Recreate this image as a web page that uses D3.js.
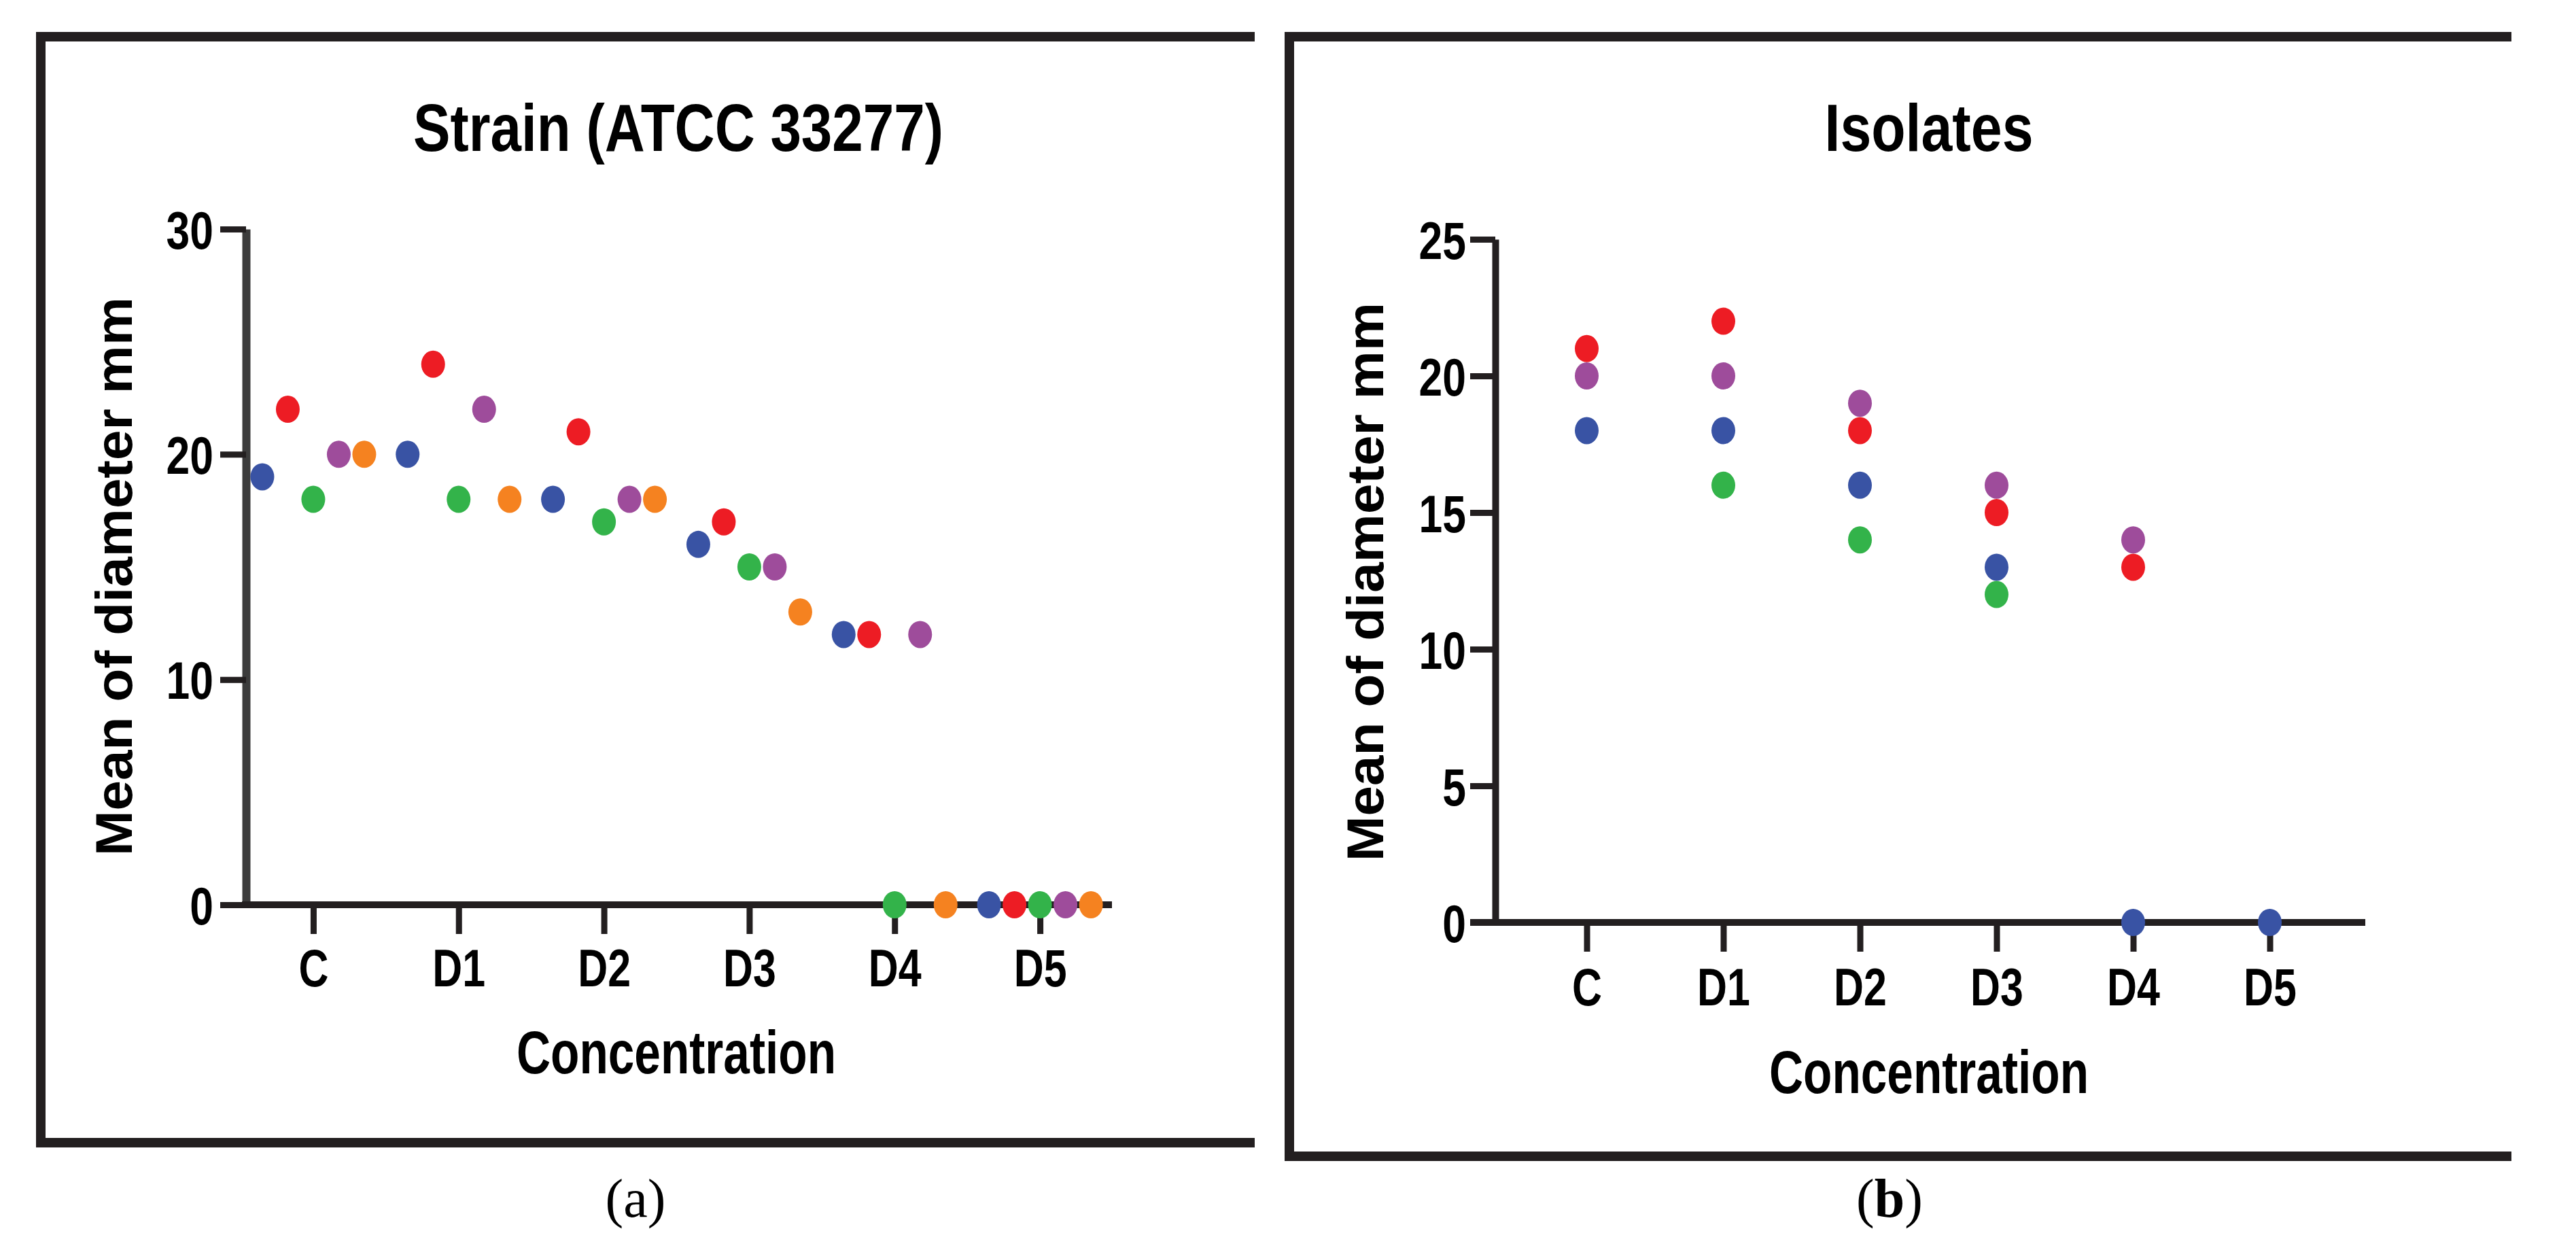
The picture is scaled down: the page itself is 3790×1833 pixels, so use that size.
<!DOCTYPE html>
<html>
<head>
<meta charset="utf-8">
<script src="https://cdn.jsdelivr.net/npm/d3@7/dist/d3.min.js"></script>
<style>
  html, body { margin: 0; padding: 0; background: #fff; }
  svg { display: block; }
</style>
</head>
<body>
<script>
// ---------------- DATA ----------------
const categories = ["C", "D1", "D2", "D3", "D4", "D5"];
const seriesKeys = ["blue", "red", "green", "purple", "orange"];
const seriesColors = ["#3953a4", "#ed1c24", "#33b34a", "#9e4c9b", "#f58220"];

// Panel (a): Strain (ATCC 33277) – five replicate values per concentration
const strainBlue   = [19, 20, 18, 16, 12, 0];
const strainRed    = [22, 24, 21, 17, 12, 0];
const strainGreen  = [18, 18, 17, 15, 0, 0];
const strainPurple = [20, 22, 18, 15, 12, 0];
const strainOrange = [20, 18, 18, 13, 0, 0];

// Panel (b): Isolates (null = no point shown)
const isoBlue   = [18, 18, 16, 13, 0, 0];
const isoRed    = [21, 22, 18, 15, 13, null];
const isoGreen  = [null, 16, 14, 12, null, null];
const isoPurple = [20, 20, 19, 16, 14, null];
const isoOrange = [null, null, null, null, null, null];

const strainTicks = [0, 10, 20, 30];
const isoTicks = [0, 5, 10, 15, 20, 25];

const titleA = "Strain (ATCC 33277)";
const titleB = "Isolates";
const yLabel = "Mean of diameter mm";
const xLabel = "Concentration";

// ---------------- DRAW ----------------
const W = 3790, H = 1833;
const ink = "#231f20";
const sans = "'Liberation Sans', Arial, Helvetica, sans-serif";
const serif = "'Liberation Serif', 'Times New Roman', serif";

const svg = d3.select("body").append("svg")
  .attr("width", W).attr("height", H)
  .attr("viewBox", `0 0 ${W} ${H}`);
svg.append("rect").attr("width", W).attr("height", H).attr("fill", "#fff");

function squeeze(sel, factor) {
  sel.each(function () {
    const w = this.getComputedTextLength();
    this.setAttribute("textLength", w * factor);
    this.setAttribute("lengthAdjust", "spacingAndGlyphs");
  });
}
function fitTo(sel, len) {
  sel.attr("textLength", len).attr("lengthAdjust", "spacingAndGlyphs");
}

// Frames (open on the right side)
svg.append("path")
  .attr("d", "M1846,54H60V1681H1846")
  .attr("fill", "none").attr("stroke", ink).attr("stroke-width", 14);
svg.append("path")
  .attr("d", "M3695,54H1897V1701H3695")
  .attr("fill", "none").attr("stroke", ink).attr("stroke-width", 14);

function makeTable(arrays) {
  const rows = [];
  categories.forEach((c, ci) => {
    seriesKeys.forEach((s, si) => {
      const v = arrays[si][ci];
      if (v !== null && v !== undefined) rows.push({ cat: c, series: s, si, value: v });
    });
  });
  return rows;
}

function drawPanel(cfg) {
  const g = svg.append("g");
  const x = d3.scalePoint().domain(categories).range(cfg.xRange).padding(0.5);
  const y = d3.scaleLinear().domain(cfg.yDomain).range(cfg.yRange);
  const off = d3.scalePoint().domain(seriesKeys).range(cfg.dodge);

  // y axis
  const ya = g.append("g")
    .attr("transform", `translate(${cfg.yAxisX},0)`)
    .call(d3.axisLeft(y).tickValues(cfg.ticks).tickSize(cfg.yTickLen).tickSizeOuter(0).tickPadding(cfg.yTickPad));
  ya.select(".domain").attr("stroke", cfg.yAxisColor).attr("stroke-width", cfg.yAxisW);
  ya.selectAll(".tick line").attr("stroke", ink).attr("stroke-width", 9);
  ya.selectAll(".tick text")
    .attr("font-family", sans).attr("font-weight", "bold").attr("font-size", 78)
    .attr("fill", "#000").attr("dy", "0.36em");
  squeeze(ya.selectAll(".tick text"), 0.8);

  // x axis
  const xa = g.append("g")
    .attr("transform", `translate(0,${y(0)})`)
    .call(d3.axisBottom(x).tickSize(43).tickSizeOuter(0).tickPadding(cfg.xTickPad));
  xa.select(".domain").remove();
  xa.selectAll(".tick line").attr("stroke", ink).attr("stroke-width", 9);
  xa.selectAll(".tick text")
    .attr("font-family", sans).attr("font-weight", "bold").attr("font-size", 78)
    .attr("fill", "#000");
  squeeze(xa.selectAll(".tick text"), 0.78);
  g.append("line")
    .attr("x1", cfg.xAxisExtent[0]).attr("x2", cfg.xAxisExtent[1])
    .attr("y1", y(0)).attr("y2", y(0))
    .attr("stroke", ink).attr("stroke-width", 10);

  // points
  g.append("g").selectAll("ellipse")
    .data(cfg.rows)
    .join("ellipse")
    .attr("cx", d => x(d.cat) + off(d.series))
    .attr("cy", d => y(d.value))
    .attr("rx", 17.5).attr("ry", 20)
    .attr("fill", d => seriesColors[d.si]);

  // titles
  g.append("text")
    .attr("x", cfg.titleX).attr("y", 222)
    .attr("text-anchor", "middle")
    .attr("font-family", sans).attr("font-weight", "bold").attr("font-size", 98)
    .attr("fill", "#000").text(cfg.title)
    .call(fitTo, cfg.titleLen);

  g.append("text")
    .attr("transform", `translate(${cfg.yLabelX},${cfg.yLabelY}) rotate(-90)`)
    .attr("text-anchor", "middle")
    .attr("font-family", sans).attr("font-weight", "bold").attr("font-size", 76)
    .attr("fill", "#000").text(yLabel)
    .call(fitTo, 822);

  g.append("text")
    .attr("x", cfg.xLabelX).attr("y", cfg.xLabelY)
    .attr("text-anchor", "middle")
    .attr("font-family", sans).attr("font-weight", "bold").attr("font-size", 89)
    .attr("fill", "#000").text(xLabel)
    .call(fitTo, 470);
}

drawPanel({
  rows: makeTable([strainBlue, strainRed, strainGreen, strainPurple, strainOrange]),
  xRange: [354, 1637],
  yDomain: [0, 30], yRange: [1331, 337],
  dodge: [-75, 75],
  ticks: strainTicks,
  yAxisX: 362, yAxisW: 12, yAxisColor: "#3c3c3c",
  yTickLen: 38, yTickPad: 10,
  xTickPad: 22,
  xAxisExtent: [356, 1636],
  title: titleA, titleX: 998, titleLen: 780,
  yLabelX: 194, yLabelY: 848,
  xLabelX: 995, xLabelY: 1579
});

drawPanel({
  rows: makeTable([isoBlue, isoRed, isoGreen, isoPurple, isoOrange]),
  xRange: [2234, 3440],
  yDomain: [0, 25], yRange: [1357, 352],
  dodge: [0, 0],
  ticks: isoTicks,
  yAxisX: 2200, yAxisW: 10, yAxisColor: ink,
  yTickLen: 37, yTickPad: 6,
  xTickPad: 24,
  xAxisExtent: [2163, 3480],
  title: titleB, titleX: 2838, titleLen: 307,
  yLabelX: 2035, yLabelY: 856,
  xLabelX: 2838, xLabelY: 1608
});

// captions
svg.append("text")
  .attr("x", 935).attr("y", 1790)
  .attr("text-anchor", "middle")
  .attr("font-family", serif).attr("font-size", 80).attr("fill", "#000")
  .text("(a)");
const capB = svg.append("text")
  .attr("x", 2780).attr("y", 1790)
  .attr("text-anchor", "middle")
  .attr("font-family", serif).attr("font-size", 80).attr("fill", "#000");
capB.append("tspan").text("(");
capB.append("tspan").attr("font-weight", "bold").text("b");
capB.append("tspan").text(")");
</script>
</body>
</html>
